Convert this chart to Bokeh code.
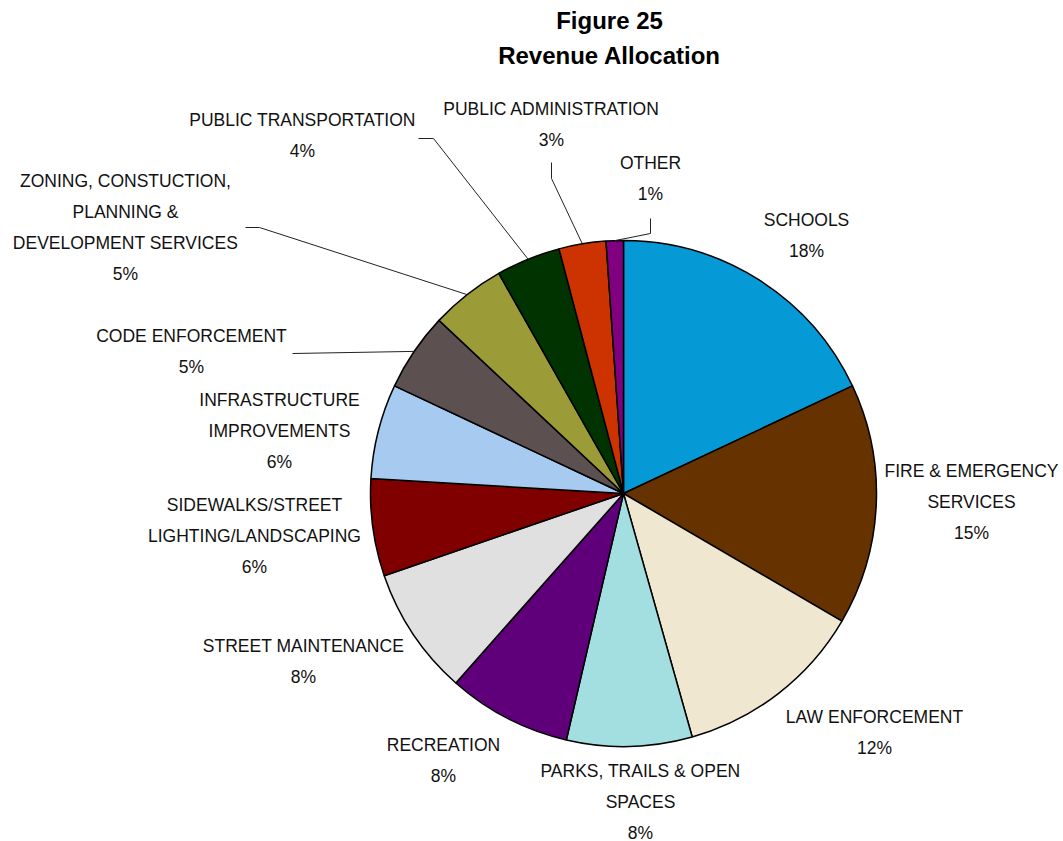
import math
from bokeh.plotting import figure
from bokeh.models import Range1d, ColumnDataSource
from bokeh.core.properties import value
from bokeh.embed import file_html
from bokeh.resources import INLINE

# ---- data (clockwise from 12 o'clock) ----
categories = [
    "SCHOOLS",
    "FIRE & EMERGENCY\nSERVICES",
    "LAW ENFORCEMENT",
    "PARKS, TRAILS & OPEN\nSPACES",
    "RECREATION",
    "STREET MAINTENANCE",
    "SIDEWALKS/STREET\nLIGHTING/LANDSCAPING",
    "INFRASTRUCTURE\nIMPROVEMENTS",
    "CODE ENFORCEMENT",
    "ZONING, CONSTUCTION,\nPLANNING &\nDEVELOPMENT SERVICES",
    "PUBLIC TRANSPORTATION",
    "PUBLIC ADMINISTRATION",
    "OTHER",
]
values = [18.0, 15.4, 12.2, 8.0, 7.9, 8.2, 6.2, 6.05, 5.0, 4.8, 4.1, 3.0, 1.1]
colors = ["#0599D5", "#663300", "#F0E7D0", "#A3DFE0", "#5F007A", "#E0E0E0",
          "#800000", "#A6CAF0", "#5C5050", "#9B9B37", "#003300", "#CC3300", "#800080"]

# ---- layout (screen px) ----
W, H = 1063, 841
CX, CY, R = 623, 493, 253
FONT = "Liberation Sans"
LINE_H = 31

label_pos = [(806, 219), (971, 470), (874, 716), (640, 770), (443, 744), (303, 645),
             (254, 504), (279, 399), (191, 335), (125, 180), (302, 119), (551, 108), (650, 162)]
# leader lines: label-side points, then to the slice mid-point on the rim
leaders = {
    8: [(292, 353)],
    9: [(245, 227), (259, 227)],
    10: [(418, 138), (433, 138)],
    11: [(551, 162), (551, 178)],
    12: [(650, 218), (650, 233)],
}


def sy(y):
    return H - y


p = figure(width=W, height=H, output_backend="svg", toolbar_location=None,
           x_range=Range1d(0, W), y_range=Range1d(0, H), min_border=0)
p.axis.visible = False
p.grid.visible = False
p.outline_line_color = None
p.background_fill_color = "white"

total = sum(values)
starts, ends, mids = [], [], []
cum = 0.0
for v in values:
    a0 = cum / total * 2 * math.pi
    cum += v
    a1 = cum / total * 2 * math.pi
    starts.append(math.pi / 2 - a0)
    ends.append(math.pi / 2 - a1)
    mids.append((a0 + a1) / 2)

src = ColumnDataSource(dict(start=starts, end=ends, color=colors))
p.wedge(x=CX, y=sy(CY), radius=R, radius_units="screen", start_angle="start",
        end_angle="end", direction="clock", fill_color="color",
        line_color="black", line_width=1.5, source=src)

# leader lines
for i, pts in leaders.items():
    m = mids[i]
    ex = CX + R * math.sin(m)
    ey = CY - R * math.cos(m)
    xs = [q[0] for q in pts] + [ex]
    ys = [sy(q[1]) for q in pts] + [sy(ey)]
    p.line(xs, ys, line_color="#222222", line_width=1)

# labels
tx, ty, tt = [], [], []
for cat, v, (lx, ly) in zip(categories, values, label_pos):
    lines = cat.split("\n") + [f"{round(v)}%"]
    for k, ln in enumerate(lines):
        tx.append(lx)
        ty.append(sy(ly + k * LINE_H))
        tt.append(ln)
p.text(x=tx, y=ty, text=tt, text_align="center", text_baseline="middle",
       text_font=value(FONT), text_font_size="17.5px", text_color="#111111")

# title
p.text(x=[609, 609], y=[sy(20), sy(55)], text=["Figure 25", "Revenue Allocation"],
       text_align="center", text_baseline="middle", text_font=value(FONT),
       text_font_size="24px", text_font_style="bold", text_color="black")

open("out.html", "w").write(file_html(p, INLINE))
